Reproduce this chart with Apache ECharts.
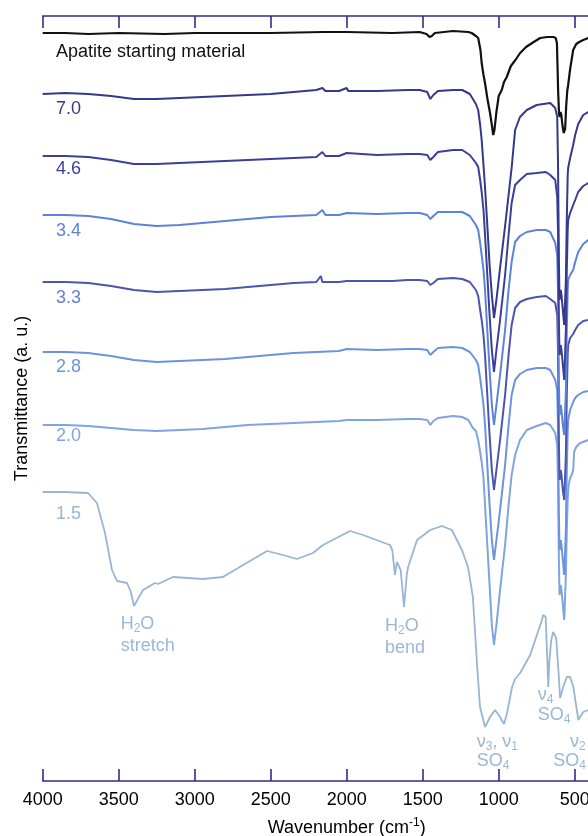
<!DOCTYPE html>
<html><head><meta charset="utf-8">
<script src="https://cdn.jsdelivr.net/npm/echarts@6/dist/echarts.min.js"></script>
<style>html,body{margin:0;padding:0;background:#fff}#c{width:588px;height:836px}</style>
</head><body><div id="c"></div><script>
// Data: [wavenumber (cm-1), transmittance (a.u., offset stacked)]
const apatite = [[4000,748],[3850,748],[3700,747],[3500,748],[3200,747],[3000,748],[2500,748],[2150,749],[2000,749],[1700,748],[1520,749],[1475,747],[1455,744],[1440,745],[1420,748],[1300,750],[1200,749],[1178,748],[1150,745],[1135,743],[1120,731],[1112,718],[1100,706],[1090,698],[1075,683],[1057,668],[1045,656],[1036,646],[1028,651],[1015,669],[1000,685],[980,691],[965,699],[947,704],[920,715],[890,721],[859,728],[820,734],[780,738],[727,743],[680,744],[640,744],[625,743],[617,738],[613,715],[609,690],[603,667],[598,664],[593,669],[588,666],[580,655],[572,648],[568,647],[563,652],[556,675],[549,690],[543,696],[530,712],[510,731],[490,737],[470,739],[444,741],[411,743],[390,743]];
const ph70 = [[4000,687],[3850,688],[3700,687],[3550,685],[3400,682],[3250,682],[3100,683],[2950,684],[2800,685],[2650,686],[2500,687],[2350,689],[2200,691],[2160,693],[2140,690],[2050,690],[2000,693],[1990,690],[1800,690],[1600,691],[1520,691],[1470,689],[1450,682],[1430,686],[1400,690],[1300,691],[1240,691],[1190,687],[1150,677],[1135,671],[1122,656],[1112,641],[1100,616],[1090,594],[1075,556],[1060,516],[1045,486],[1031,463],[1015,481],[991,513],[958,555],[935,586],[915,613],[892,651],[860,664],[815,671],[750,676],[661,678],[628,673],[615,664],[610,621],[604,521],[600,481],[596,483],[592,491],[587,486],[578,471],[569,456],[564,456],[558,501],[552,561],[546,606],[543,613],[530,623],[510,636],[497,646],[477,657],[444,666],[411,669],[390,670]];
const ph46 = [[4000,625],[3850,625],[3700,624],[3550,621],[3400,617],[3250,617],[3100,618],[2950,619],[2800,620],[2650,621],[2500,622],[2350,623],[2200,624],[2160,629],[2140,625],[2050,625],[2000,628],[1990,626],[1800,626],[1600,627],[1520,627],[1470,626],[1450,621],[1430,624],[1400,629],[1300,631],[1240,631],[1190,626],[1150,618],[1135,614],[1122,601],[1112,589],[1100,571],[1090,546],[1075,506],[1060,466],[1045,431],[1031,409],[1015,431],[991,461],[958,506],[935,546],[915,578],[892,596],[860,601],[815,607],[750,608],[690,609],[661,606],[628,601],[615,584],[610,551],[604,461],[600,426],[596,429],[592,436],[587,431],[578,416],[569,401],[564,401],[558,451],[552,511],[546,551],[543,561],[530,568],[510,576],[497,581],[477,589],[444,595],[411,598],[390,599]];
const ph34 = [[4000,566],[3850,566],[3700,565],[3550,562],[3400,557],[3250,555],[3100,556],[2950,558],[2800,560],[2650,562],[2500,564],[2350,565],[2200,566],[2160,571],[2140,566],[2050,566],[2000,568],[1990,567],[1800,567],[1600,568],[1520,568],[1470,566],[1450,562],[1430,565],[1400,569],[1300,569],[1240,569],[1190,565],[1150,556],[1135,551],[1122,538],[1112,526],[1100,511],[1090,491],[1075,451],[1060,411],[1045,376],[1031,356],[1015,376],[991,406],[958,451],[935,491],[915,519],[892,539],[860,545],[815,549],[750,551],[690,551],[661,549],[628,538],[615,526],[610,491],[604,401],[600,366],[596,369],[592,376],[587,371],[578,356],[569,346],[564,346],[558,391],[552,451],[546,491],[543,501],[530,506],[510,511],[497,519],[477,529],[444,537],[411,541],[390,542]];
const ph33 = [[4000,499],[3850,499],[3700,498],[3550,495],[3400,491],[3250,489],[3100,490],[2950,491],[2800,492],[2650,494],[2500,496],[2350,498],[2200,499],[2170,505],[2160,499],[2050,499],[2000,500],[1900,500],[1700,500],[1600,501],[1520,501],[1470,500],[1450,496],[1430,498],[1400,502],[1300,503],[1240,502],[1190,499],[1150,491],[1135,485],[1122,471],[1112,461],[1100,446],[1090,426],[1075,386],[1060,346],[1045,311],[1031,291],[1015,311],[991,341],[958,386],[935,426],[915,456],[892,473],[860,479],[815,482],[750,484],[690,485],[661,482],[628,478],[615,466],[610,431],[604,341],[600,301],[596,304],[592,311],[587,306],[578,291],[569,281],[564,281],[558,326],[552,386],[546,426],[543,436],[530,443],[510,447],[497,451],[477,456],[444,460],[411,461],[390,462]];
const ph28 = [[4000,429],[3850,429],[3700,428],[3550,425],[3400,421],[3250,419],[3100,420],[2950,421],[2800,422],[2650,424],[2500,426],[2350,428],[2200,429],[2050,430],[2000,432],[1990,431],[1800,431],[1600,432],[1520,432],[1470,431],[1450,426],[1430,429],[1400,433],[1300,434],[1240,433],[1190,429],[1150,421],[1135,416],[1122,403],[1112,391],[1100,376],[1090,356],[1075,316],[1060,276],[1045,241],[1031,221],[1015,241],[991,271],[958,316],[935,356],[915,386],[892,401],[860,407],[815,411],[750,413],[690,413],[661,411],[628,401],[615,391],[610,356],[604,266],[600,231],[596,234],[592,241],[587,236],[578,221],[569,206],[564,206],[558,251],[552,311],[546,351],[543,361],[530,371],[510,379],[497,383],[477,386],[444,389],[411,390],[390,391]];
const ph20 = [[4000,356],[3850,356],[3700,355],[3550,353],[3400,351],[3250,350],[3100,351],[2950,352],[2800,354],[2650,356],[2500,357],[2350,358],[2200,359],[2050,360],[2000,361],[1800,361],[1600,362],[1520,362],[1470,361],[1450,356],[1430,360],[1400,363],[1300,365],[1240,364],[1200,361],[1170,353],[1150,350],[1135,341],[1122,329],[1112,319],[1100,303],[1090,276],[1075,236],[1060,196],[1045,156],[1031,136],[1015,156],[991,191],[958,236],[935,276],[915,306],[892,326],[860,341],[815,351],[750,355],[690,358],[661,356],[628,348],[615,336],[610,301],[604,221],[600,186],[596,189],[592,196],[587,191],[578,176],[569,161],[564,161],[558,206],[552,251],[546,281],[540,296],[530,303],[520,306],[510,311],[504,329],[490,334],[464,338],[411,341],[390,341]];
const ph15 = [[4000,289],[3850,289],[3702,288],[3643,278],[3590,248],[3544,211],[3511,200],[3445,198],[3420,189],[3399,175],[3370,183],[3340,191],[3261,198],[3241,197],[3143,204],[2946,202],[2814,204],[2682,216],[2524,230],[2419,226],[2327,222],[2222,228],[2156,236],[1978,250],[1893,246],[1716,236],[1700,231],[1683,206],[1670,219],[1660,219],[1645,211],[1623,174],[1605,206],[1596,214],[1537,241],[1451,251],[1374,255],[1308,251],[1242,231],[1202,214],[1170,184],[1143,118],[1123,74],[1090,54],[1057,64],[1024,71],[991,64],[965,57],[945,68],[912,94],[892,102],[859,108],[793,126],[720,159],[707,166],[691,164],[680,120],[674,94],[667,120],[655,140],[642,149],[622,143],[606,108],[596,83],[578,93],[552,104],[530,104],[509,94],[476,61],[444,69],[411,71],[390,71]];

const seriesNames = ['1.5','2.0','2.8','3.3','3.4','4.6','7.0','Apatite starting material'];
const seriesData = [ph15, ph20, ph28, ph33, ph34, ph46, ph70, apatite];
const xTicks = [4000,3500,3000,2500,2000,1500,1000,500];

const colors = ['#98b6d3','#80a5de','#6b93df','#4b55ad','#5c83d9','#3c3f98','#36388b','#111111'];
const labelColors = ['#98b6d3','#80a5de','#6b93df','#6282d4','#5c83d9','#3c3f98','#36388b','#111111'];
const widths = [1.8,2,2,2,2,2,2,2.2];
const labelAnchors = [[3912,267],[3912,345],[3912,414],[3912,483],[3912,550],[3912,612],[3912,672],[3912,729]];

const NAVY = '#2e2e86';
const FONT = '"Liberation Sans", Arial, sans-serif';
const ANN = '#9ab7d5';

const annotations = [
  {t:'{n|H}{s|2}{n|O}', at:[3487,157]},
  {t:'{n|stretch}', at:[3487,135]},
  {t:'{n|H}{s|2}{n|O}', at:[1748,155]},
  {t:'{n|bend}', at:[1748,133]},
  {t:'{n|ν}{s|3}{n|, ν}{s|1}', at:[1145,39]},
  {t:'{n|SO}{s|4}', at:[1145,20]},
  {t:'{n|ν}{s|4}', at:[743,86]},
  {t:'{n|SO}{s|4}', at:[743,66]},
  {t:'{n|ν}{s|2}', at:[531,39]},
  {t:'{n|SO}{s|4}', at:[641,20]}
];

const chart = echarts.init(document.getElementById('c'), null, {renderer:'canvas'});
const axisCommon = {
  type:'value', min:0, max:4000, interval:500, inverse:true,
  axisLine:{show:true, lineStyle:{color:NAVY, width:1.6}},
  axisTick:{show:true, inside:true, length:12, lineStyle:{color:NAVY, width:1.6}},
  splitLine:{show:false}
};
const option = {
  animation:false,
  backgroundColor:'#fff',
  grid:{left:42.7, width:608, top:16, height:765, containLabel:false, outerBoundsMode:'none'},
  xAxis:[
    Object.assign({}, axisCommon, {
      position:'bottom',
      axisLabel:{show:true, color:'#000', fontSize:18, fontFamily:FONT, margin:10,
        formatter: v => xTicks.includes(v) ? String(v) : ''},
      name:'{n|Wavenumber (cm}{s|-1}{n|)}', nameLocation:'middle', nameGap:36,
      nameTextStyle:{color:'#000', fontFamily:FONT, fontSize:18,
        rich:{n:{fontSize:18, fontFamily:FONT, color:'#000', lineHeight:22},
              s:{fontSize:12, fontFamily:FONT, color:'#000', lineHeight:12, verticalAlign:'top'}}}
    }),
    Object.assign({}, axisCommon, {position:'top', axisLabel:{show:false}})
  ],
  yAxis:{type:'value', min:0, max:765,
    axisLine:{show:true, lineStyle:{color:NAVY, width:1.6}},
    axisTick:{show:false}, axisLabel:{show:false}, splitLine:{show:false},
    name:'Transmittance (a. u.)', nameLocation:'middle', nameGap:12,
    nameTextStyle:{color:'#000', fontFamily:FONT, fontSize:18}},
  series: seriesData.map((d,i)=>({
    name:seriesNames[i], type:'line', data:d, xAxisIndex:0, yAxisIndex:0,
    showSymbol:false, symbol:'none', smooth:false, clip:true,
    lineStyle:{color:colors[i], width:widths[i]}, z:2+i
  }))
};
chart.setOption(option);

const g = [];
seriesNames.forEach((n,i)=>{
  const p = chart.convertToPixel({gridIndex:0}, labelAnchors[i]);
  g.push({type:'text', x:p[0], y:p[1], z:100,
    style:{text:n, fill:labelColors[i], font:'18px '+FONT, align:'left', verticalAlign:'middle'}});
});
annotations.forEach(a=>{
  const p = chart.convertToPixel({gridIndex:0}, a.at);
  g.push({type:'text', x:p[0], y:p[1], z:100,
    style:{text:a.t, fill:ANN, align:'left', verticalAlign:'middle',
      rich:{n:{fontSize:18, fontFamily:FONT, fill:ANN, color:ANN, lineHeight:22},
            s:{fontSize:12, fontFamily:FONT, fill:ANN, color:ANN, lineHeight:12, verticalAlign:'bottom'}}}});
});
chart.setOption({graphic:g});
</script></body></html>
